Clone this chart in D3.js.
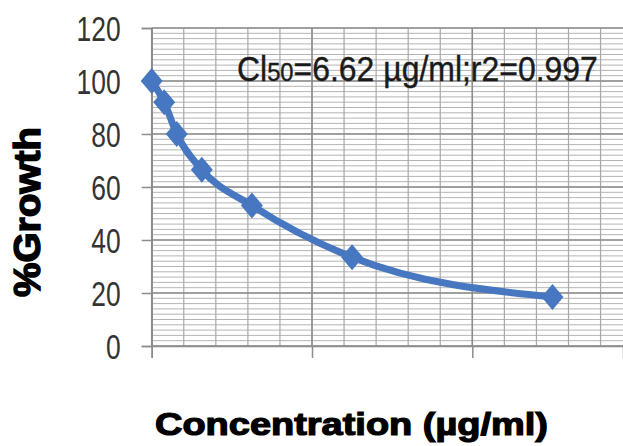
<!DOCTYPE html>
<html>
<head>
<meta charset="utf-8">
<script src="https://cdn.jsdelivr.net/npm/d3@7"></script>
<style>
  body { margin: 0; background: #fff; }
  svg { display: block; }
</style>
</head>
<body>
<div id="chart"></div>
<script>
// data
var concentration = [0, 0.625, 1.25, 2.5, 5, 10, 20];
var growth = [100, 92, 80, 66.5, 53, 33.5, 18.5];

var yTicks = [0, 20, 40, 60, 80, 100, 120];
var xMajorTicks = [0, 8, 16];
var xMinorStep = 1.6;
var yMinorStep = 2;

var annotation = "=6.62 µg/ml;r2=0.997";

var W = 623, H = 446;
var margin = {left: 151.7, top: 28, right: 0, bottom: 100};
var width = W - margin.left - margin.right;
var height = H - margin.top - margin.bottom;

var blue = "#4677c0";
var narrow = "'Liberation Sans Narrow', 'Liberation Sans', sans-serif";

var xScale = d3.scaleLinear()
  .domain([0, 23.52])
  .range([0, width]);

var yScale = d3.scaleLinear()
  .domain([0, 120])
  .range([height, 0]);

var svg = d3.select("#chart")
  .append("svg")
  .attr("width", W)
  .attr("height", H);

var g = svg.append("g")
  .attr("transform", `translate(${margin.left}, ${margin.top})`);

/* minor grid */
var xMinor = d3.range(0, 23.52, xMinorStep);
var yMinor = d3.range(0, 120.01, yMinorStep);

g.append("g")
  .selectAll("line")
  .data(yMinor).enter()
  .append("line")
  .attr("x1", 0).attr("x2", width)
  .attr("y1", d => yScale(d)).attr("y2", d => yScale(d))
  .attr("stroke", "#b4b4b4")
  .attr("stroke-width", 1);

g.append("g")
  .selectAll("line")
  .data(xMinor).enter()
  .append("line")
  .attr("y1", 0).attr("y2", height)
  .attr("x1", d => xScale(d)).attr("x2", d => xScale(d))
  .attr("stroke", "#a8a8a8")
  .attr("stroke-width", 1.2);

/* major grid */
g.append("g")
  .selectAll("line")
  .data(yTicks).enter()
  .append("line")
  .attr("x1", 0).attr("x2", width)
  .attr("y1", d => yScale(d)).attr("y2", d => yScale(d))
  .attr("stroke", "#8c8c8c")
  .attr("stroke-width", 1.5);

g.append("g")
  .selectAll("line")
  .data(xMajorTicks).enter()
  .append("line")
  .attr("y1", 0).attr("y2", height)
  .attr("x1", d => xScale(d)).attr("x2", d => xScale(d))
  .attr("stroke", "#8c8c8c")
  .attr("stroke-width", 1.5);

/* axes */
var yAxis = d3.axisLeft(yScale).tickValues(yTicks).tickSize(10).tickPadding(21);
var xAxis = d3.axisBottom(xScale).tickValues(xMajorTicks).tickSize(12).tickFormat("");

var yg = g.append("g").call(yAxis);
yg.select(".domain").attr("stroke", "#8c8c8c").attr("stroke-width", 1.5);
yg.selectAll(".tick line").attr("stroke", "#8c8c8c").attr("stroke-width", 1.5);
yg.selectAll(".tick text")
  .attr("fill", "#333")
  .style("font-family", narrow)
  .style("font-size", "35px")
  .attr("dy", "0.36em")
  .attr("textLength", d => String(d).length * 14.7)
  .attr("lengthAdjust", "spacingAndGlyphs");

var xg = g.append("g")
  .attr("transform", `translate(0, ${height})`)
  .call(xAxis);
xg.select(".domain").attr("stroke", "#8c8c8c").attr("stroke-width", 1.5);
xg.selectAll(".tick line").attr("stroke", "#8c8c8c").attr("stroke-width", 1.5);

/* smoothed line */
var points = concentration.map((c, i) => ({c: c, v: growth[i]}));

var line = d3.line()
  .x(d => xScale(d.c))
  .y(d => yScale(d.v))
  .curve(d3.curveMonotoneX);

g.append("path")
  .attr("d", line(points))
  .attr("fill", "none")
  .attr("stroke", blue)
  .attr("stroke-width", 7)
  .attr("stroke-linejoin", "round");

/* diamond markers */
var diamond = d3.symbol(d3.symbolSquare, 240);
g.append("g")
  .selectAll("path")
  .data(points).enter()
  .append("path")
  .attr("d", diamond)
  .attr("transform", d => `translate(${xScale(d.c)}, ${yScale(d.v)}) scale(1, 1.18) rotate(45)`)
  .attr("fill", blue);

/* annotation - squeezed to the reference width with a scale */
var ann = svg.append("text")
  .attr("x", 0)
  .attr("y", 0)
  .attr("fill", "#1a1a1a")
  .attr("stroke", "#1a1a1a")
  .attr("stroke-width", 0.4)
  .style("font-family", narrow)
  .style("font-size", "35px");
ann.append("tspan").text("Cl");
ann.append("tspan").style("font-size", "26px").text("50");
ann.append("tspan").text(annotation);

var annW = ann.node().getComputedTextLength();
var sx = 361 / annW;
ann.attr("transform", `translate(237, 80.5) scale(${sx}, 1)`);

/* axis titles */
svg.append("text")
  .attr("transform", "translate(40, 212) rotate(-90)")
  .attr("text-anchor", "middle")
  .attr("fill", "#000")
  .attr("stroke", "#000")
  .attr("stroke-width", 1.4)
  .style("font-family", "'Liberation Sans', Arial, sans-serif")
  .style("font-weight", "bold")
  .style("font-size", "36px")
  .attr("textLength", 170)
  .attr("lengthAdjust", "spacingAndGlyphs")
  .text("%Growth");

svg.append("text")
  .attr("x", 351.5)
  .attr("y", 435)
  .attr("text-anchor", "middle")
  .attr("fill", "#000")
  .attr("stroke", "#000")
  .attr("stroke-width", 1.2)
  .style("font-family", "'Liberation Sans', Arial, sans-serif")
  .style("font-weight", "bold")
  .style("font-size", "31px")
  .attr("textLength", 393)
  .attr("lengthAdjust", "spacingAndGlyphs")
  .text("Concentration (µg/ml)");
</script>
</body>
</html>
